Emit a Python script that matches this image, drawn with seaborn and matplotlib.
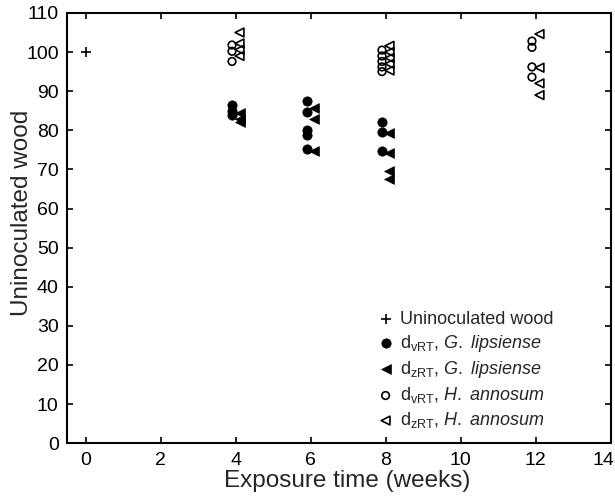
import numpy as np
import pandas as pd
import matplotlib
matplotlib.use("Agg")
import matplotlib.pyplot as plt
import matplotlib.transforms as mtransforms
import seaborn as sns

# data (weeks, residual value in %)
weeks_control = [0]
control = [100]

weeks_gl_v = [4, 4, 4, 6, 6, 6, 6, 6, 8, 8, 8]
gl_v = [86.5, 85, 84, 87.5, 84.8, 80.2, 78.8, 75.2, 82, 79.6, 74.8]

weeks_gl_z = [4, 4, 4, 6, 6, 6, 8, 8, 8, 8]
gl_z = [84.5, 83, 82, 85.7, 82.8, 74.6, 79.2, 74.2, 69.5, 67.5]

weeks_ha_v = [4, 4, 4, 8, 8, 8, 8, 8, 12, 12, 12, 12]
ha_v = [101.8, 100.2, 97.6, 100.5, 99, 97.6, 96.2, 95, 102.8, 101.2, 96.2, 93.6]

weeks_ha_z = [4, 4, 4, 4, 8, 8, 8, 8, 8, 12, 12, 12, 12]
ha_z = [105, 102.2, 100.6, 99, 101.6, 100, 98.5, 97, 95.3, 104.6, 96, 92, 89]

sns.set_style("ticks")
plt.rcParams['font.family'] = ['Liberation Sans', 'DejaVu Sans']
plt.rcParams['mathtext.fontset'] = 'custom'
plt.rcParams['mathtext.rm'] = 'Liberation Sans'
plt.rcParams['mathtext.it'] = 'Liberation Sans:italic'

fig = plt.figure(figsize=(6.15, 4.98), dpi=100)
ax = fig.add_axes([0.109, 0.110, 0.884, 0.864])

series = [
    (weeks_control, control, 0.0, '+', True, 50, 'Uninoculated wood'),
    (weeks_gl_v, gl_v, -0.1, 'o', True, 45, r'd$_{\mathrm{vRT}}$, $\mathit{G.}$ $\mathit{lipsiense}$'),
    (weeks_gl_z, gl_z, 0.1, '<', True, 50, r'd$_{\mathrm{zRT}}$, $\mathit{G.}$ $\mathit{lipsiense}$'),
    (weeks_ha_v, ha_v, -0.1, 'o', False, 30, r'd$_{\mathrm{vRT}}$, $\mathit{H.}$ $\mathit{annosum}$'),
    (weeks_ha_z, ha_z, 0.1, '<', False, 40, r'd$_{\mathrm{zRT}}$, $\mathit{H.}$ $\mathit{annosum}$'),
]

for wk, vals, shift, mk, filled, size, lab in series:
    df = pd.DataFrame({'week': np.array(wk) + shift, 'value': vals})
    if mk == '+':
        sns.scatterplot(data=df, x='week', y='value', marker=mk, s=size, color='black',
                        linewidth=1.2, label=lab, ax=ax)
    elif filled:
        sns.scatterplot(data=df, x='week', y='value', marker=mk, s=size, color='black',
                        edgecolor='black', linewidth=0.5, label=lab, ax=ax)
    else:
        sns.scatterplot(data=df, x='week', y='value', marker=mk, s=size, facecolor='none',
                        edgecolor='black', linewidth=1.2, label=lab, ax=ax)

ax.set_xlim(-0.5, 14)
ax.set_ylim(0, 110)
ax.set_xticks(range(0, 15, 2))
ax.set_yticks(range(0, 111, 10))
ax.set_xlabel('Exposure time (weeks)', fontsize=17.5)
ax.set_ylabel('Uninoculated wood', fontsize=17.5)
ax.xaxis.set_label_coords(0.515, -0.062)
ax.yaxis.set_label_coords(-0.062, 0.535)
ax.tick_params(direction='in', top=True, right=True, length=4, width=1.2,
               labelsize=14, colors='black')
ax.tick_params(axis='x', pad=6)
ax.tick_params(axis='y', pad=6)
for sp in ax.spines.values():
    sp.set_linewidth(1.5)
    sp.set_color('black')

# last x tick label pulled left so it stays inside the figure
fig.canvas.draw()
last = ax.get_xticklabels()[-1]
last.set_transform(last.get_transform() + mtransforms.ScaledTranslation(-0.07, 0, fig.dpi_scale_trans))

ax.legend(loc='lower left', bbox_to_anchor=(0.566, 0.03), frameon=False, fontsize=13,
          borderpad=0, borderaxespad=0, handletextpad=0.2, labelspacing=0.28,
          handlelength=1.2)

fig.savefig('out.png', dpi=100)
